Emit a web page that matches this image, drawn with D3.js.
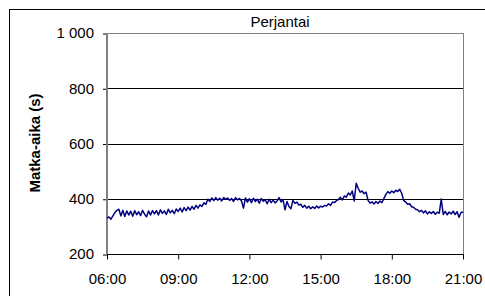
<!DOCTYPE html>
<html>
<head>
<meta charset="utf-8">
<script src="https://cdn.jsdelivr.net/npm/d3@7"></script>
<style>
  body { margin: 0; background: #fff; }
  svg { display: block; font-family: "Liberation Sans", Arial, sans-serif; }
</style>
</head>
<body>
<div id="chart"></div>
<script>
// Friday travel time, 5-minute samples from 06:00 to 21:00
const startTime = new Date(2000, 0, 7, 6, 0);
const stepMinutes = 5;
const travelTime = [
  // 06
  330, 334, 326, 338, 350, 358, 362, 338, 358, 336, 356, 341,
  // 07
  355, 337, 357, 342, 353, 339, 358, 344, 335, 356, 341, 357,
  // 08
  345, 357, 341, 360, 347, 356, 343, 362, 349, 358, 346, 363,
  // 09
  354, 366, 352, 368, 357, 370, 359, 372, 362, 376, 366, 378,
  // 10
  372, 385, 380, 398, 390, 403, 393, 404, 395, 402, 392, 404,
  // 11
  398, 403, 394, 401, 390, 404, 396, 401, 392, 366, 403, 388,
  // 12
  400, 386, 402, 390, 398, 384, 401, 391, 396, 382, 398, 386,
  // 13
  395, 385, 392, 404, 388, 397, 360, 390, 372, 364, 394, 383,
  // 14
  388, 377, 380, 369, 376, 366, 373, 364, 371, 365, 374, 367,
  // 15
  373, 370, 376, 374, 382, 376, 388, 386, 393, 397, 405, 396,
  // 16
  410, 406, 421, 414, 428, 392, 456, 438, 424, 428, 418, 424,
  // 17
  394, 384, 389, 381, 390, 383, 392, 386, 401, 416, 426, 420,
  // 18
  428, 422, 431, 426, 434, 420, 394, 388, 380, 382, 371, 369,
  // 19
  362, 360, 353, 358, 349, 356, 345, 353, 347, 354, 344, 351,
  // 20
  348, 399, 343, 354, 342, 352, 345, 355, 343, 353, 333, 350,
  // 21
  352
];
const yTicks = [200, 400, 600, 800, 1000];
const xTickHours = [6, 9, 12, 15, 18, 21];
const chartTitle = 'Perjantai';
const yTitle = 'Matka-aika (s)';

const W = 485, H = 296;
const m = { left: 107, right: 463, top: 33, bottom: 254 };

const points = travelTime.map((v, i) => ({
  t: new Date(startTime.getTime() + i * stepMinutes * 60000),
  v
}));

const x = d3.scaleTime()
  .domain([new Date(2000, 0, 7, 6, 0), new Date(2000, 0, 7, 21, 0)])
  .range([m.left, m.right]);
const y = d3.scaleLinear().domain([200, 1000]).range([m.bottom, m.top]);

const svg = d3.select('#chart').append('svg').attr('width', W).attr('height', H);

// outer chart frame
svg.append('rect').attr('x', 9.5).attr('y', 9.5).attr('width', W).attr('height', H)
  .attr('fill', 'none').attr('stroke', '#000');

// plot frame
svg.append('rect').attr('x', m.left).attr('y', m.top + 0.5)
  .attr('width', m.right - m.left + 0.5).attr('height', m.bottom - m.top)
  .attr('fill', 'none').attr('stroke', '#808080');

// gridlines
svg.append('g').selectAll('line').data(yTicks.filter(d => d > 200 && d < 1000)).enter().append('line')
  .attr('x1', m.left).attr('x2', m.right)
  .attr('y1', d => Math.round(y(d)) + 0.5).attr('y2', d => Math.round(y(d)) + 0.5)
  .attr('stroke', '#000');

// y axis, thousands split with a space
const yAxis = svg.append('g').attr('transform', `translate(${m.left},0)`)
  .call(d3.axisLeft(y).tickValues(yTicks).tickSize(4).tickPadding(9)
    .tickFormat(d => d3.format(',')(d).replace(',', ' ')));
yAxis.select('.domain').remove();
yAxis.selectAll('line').attr('stroke', '#000').attr('transform', 'translate(0,0.5)');
yAxis.selectAll('text').attr('font-size', 15).attr('fill', '#000')
  .attr('font-family', '"Liberation Sans", Arial, sans-serif');

// left axis line
svg.append('line').attr('x1', m.left).attr('x2', m.left).attr('y1', m.top).attr('y2', m.bottom + 1)
  .attr('stroke', '#808080').attr('stroke-width', 2);

// x axis
const xAxis = svg.append('g').attr('transform', `translate(0,${m.bottom + 0.5})`)
  .call(d3.axisBottom(x).tickValues(xTickHours.map(h => new Date(2000, 0, 7, h, 0)))
    .tickSize(5).tickPadding(14).tickFormat(d3.timeFormat('%H:%M')));
xAxis.select('.domain').attr('stroke', '#000').attr('d', `M${m.left},0H${m.right + 0.5}`);
xAxis.selectAll('line').attr('stroke', '#000');
xAxis.selectAll('text').attr('font-size', 15).attr('fill', '#000')
  .attr('font-family', '"Liberation Sans", Arial, sans-serif');

// series
svg.append('path').datum(points)
  .attr('fill', 'none').attr('stroke', '#000080').attr('stroke-width', 1.5)
  .attr('stroke-linejoin', 'round')
  .attr('d', d3.line().x(d => x(d.t)).y(d => y(d.v)));

// titles
svg.append('text').attr('x', 280).attr('y', 27).attr('text-anchor', 'middle')
  .attr('font-size', 15).text(chartTitle);
svg.append('text').attr('transform', `translate(40,143) rotate(-90)`)
  .attr('text-anchor', 'middle').attr('font-size', 15).attr('font-weight', 'bold')
  .text(yTitle);
</script>
</body>
</html>
